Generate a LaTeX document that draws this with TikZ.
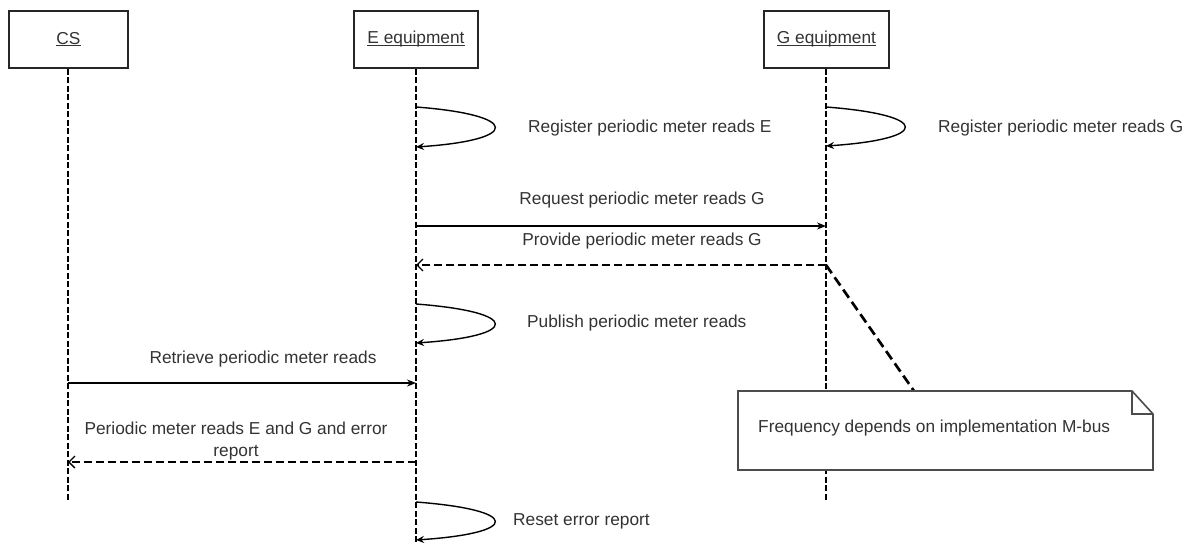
\documentclass[tikz,border=0pt]{standalone}
\usepackage{fontspec}
\setmainfont{Liberation Sans}
\usetikzlibrary{arrows.meta}
\definecolor{ink}{HTML}{333333}
\definecolor{edge}{HTML}{262626}
\newcommand{\diagfont}{\fontsize{17.3}{21.5}\selectfont}
% underline sitting just below the baseline, crossing the descenders
\newcommand{\baseul}[1]{\setbox0\hbox{#1}\rlap{\rule[-1.8pt]{\wd0}{1pt}}\box0}
\begin{document}
\begin{tikzpicture}[x=1pt,y=-1pt,
  header/.style={draw=edge, line width=1.7pt, minimum height=57pt, inner sep=0pt,
    font=\diagfont, text=ink},
  lifeline/.style={draw=black, line width=2.2pt, dash pattern=on 6pt off 2.5pt},
  label/.style={font=\diagfont, text=ink, inner sep=0pt},
  selfloop/.style={draw=black, line width=1.4pt, -{Stealth[length=8pt,width=7pt]}},
  callmsg/.style={draw=black, line width=1.4pt, -{Stealth[length=9pt,width=7pt]}},
  replymsg/.style={draw=black, line width=1.6pt, dash pattern=on 8pt off 4pt,
    -{Straight Barb[length=6pt,width=12pt,line width=1.3pt]}},
  noteline/.style={draw=black, line width=2.7pt, dash pattern=on 10pt off 5pt},
  notebox/.style={draw=black!70, line width=1.6pt, fill=white}
]
\useasboundingbox (0,0) rectangle (1193,545);

% lifeline heads
\node[header, minimum width=119pt] (cs) at (68.5,39.5) {\baseul{CS}};
\node[header, minimum width=124pt] (e)  at (416,39.5) {\baseul{E equipment}};
\node[header, minimum width=125pt] (g)  at (826.5,39.5) {\baseul{G equipment}};

% lifeline ends
\coordinate (csEnd) at (68,502);
\coordinate (eEnd)  at (416,545);
\coordinate (gEnd)  at (826,500);

\draw[lifeline] (cs.south -| csEnd) -- (csEnd);
\draw[lifeline] (e.south -| eEnd) -- (eEnd);
\draw[lifeline] (g.south -| gEnd) -- (gEnd);

% self messages on E and G
\coordinate (e1a) at (416,107); \coordinate (e1b) at (416,147);
\coordinate (g1a) at (826,107); \coordinate (g1b) at (826,146);
\coordinate (e2a) at (416,304); \coordinate (e2b) at (416,343);
\coordinate (e3a) at (416,502); \coordinate (e3b) at (416,540);

\draw[selfloop] (e1a) .. controls ++(105,8) and ++(105,-7) .. (e1b);
\draw[selfloop] (g1a) .. controls ++(105,8) and ++(105,-7) .. (g1b);
\draw[selfloop] (e2a) .. controls ++(105,8) and ++(105,-7) .. (e2b);
\draw[selfloop] (e3a) .. controls ++(105,8) and ++(105,-7) .. (e3b);

\node[label, anchor=west] (lblRegE) at (528,128) {Register periodic meter reads E};
\node[label, anchor=west] (lblRegG) at (938,128) {Register periodic meter reads G};
\node[label, anchor=west] (lblPub)  at (527,323) {Publish periodic meter reads};
\node[label, anchor=west] (lblRst)  at (513,521) {Reset error report};

% E <-> G exchange
\coordinate (reqE) at (416,226); \coordinate (reqG) at (826,226);
\coordinate (proG) at (826,265); \coordinate (proE) at (416,265);
\draw[callmsg] (reqE) -- (reqG);
\draw[replymsg] (proG) -- (proE);
\node[label] (lblReq) at (642,200) {Request periodic meter reads G};
\node[label] (lblPro) at (642,241) {Provide periodic meter reads G};

% CS <-> E exchange
\coordinate (retCS) at (68,383); \coordinate (retE) at (416,383);
\coordinate (repE) at (416,462); \coordinate (repCS) at (68,462);
\draw[callmsg] (retCS) -- (retE);
\draw[replymsg] (repE) -- (repCS);
\node[label] (lblRet) at (263,359) {Retrieve periodic meter reads};
\node[label, align=center] (lblRep) at (236,441) {Periodic meter reads E and G and error\\report};

% note attached to the G lifeline
\coordinate (noteAnchor) at (914,391);
\draw[noteline] (proG) -- (noteAnchor);
\draw[notebox] (738,391) -- (1132,391) -- (1153,414) -- (1153,470) -- (738,470) -- cycle;
\draw[notebox, fill=none] (1132,391) -- (1132,414) -- (1153,414);
\node[label, anchor=west] (noteText) at (758,428) {Frequency depends on implementation M-bus};
\end{tikzpicture}
\end{document}
